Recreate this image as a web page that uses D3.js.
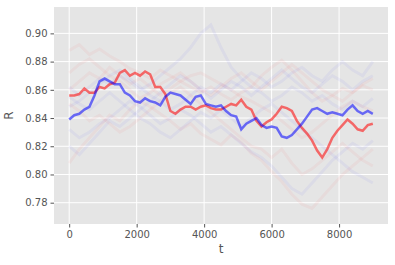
<!DOCTYPE html>
<html>
<head>
<meta charset="utf-8">
<script src="https://cdn.jsdelivr.net/npm/d3@7"></script>
<style>
  body { margin: 0; background: #fff; }
  text { font-family: "DejaVu Sans", sans-serif; }
</style>
</head>
<body>
<div id="chart"></div>
<script>
// highlighted runs, read every 150 steps
var mainStep = 150;
var redMain = [0.856, 0.856, 0.857, 0.861, 0.858, 0.858, 0.862, 0.861, 0.864, 0.865,
  0.872, 0.874, 0.870, 0.872, 0.870, 0.873, 0.871, 0.862, 0.862, 0.857,
  0.845, 0.843, 0.846, 0.848, 0.848, 0.846, 0.848, 0.849, 0.847, 0.846,
  0.846, 0.848, 0.850, 0.849, 0.853, 0.848, 0.846, 0.838, 0.834, 0.837,
  0.839, 0.843, 0.848, 0.847, 0.845, 0.838, 0.833, 0.829, 0.824, 0.817,
  0.812, 0.818, 0.826, 0.831, 0.835, 0.839, 0.836, 0.832, 0.831, 0.835, 0.836];
var blueMain = [0.839, 0.842, 0.843, 0.846, 0.848, 0.856, 0.866, 0.868, 0.866, 0.864,
  0.864, 0.858, 0.856, 0.852, 0.851, 0.854, 0.852, 0.851, 0.849, 0.855,
  0.858, 0.857, 0.856, 0.853, 0.850, 0.855, 0.856, 0.850, 0.849, 0.848,
  0.849, 0.845, 0.842, 0.841, 0.832, 0.836, 0.838, 0.840, 0.835, 0.833,
  0.834, 0.833, 0.827, 0.826, 0.828, 0.832, 0.836, 0.841, 0.846, 0.847,
  0.845, 0.843, 0.844, 0.843, 0.842, 0.846, 0.849, 0.845, 0.843, 0.845, 0.843];

// faint background runs, read every 300 steps
var faintStep = 300;
var redFaint = [
  [0.888, 0.892, 0.885, 0.889, 0.884, 0.880, 0.875, 0.872, 0.868, 0.874, 0.870, 0.866, 0.862, 0.858, 0.862, 0.857,
   0.853, 0.858, 0.862, 0.870, 0.876, 0.881, 0.874, 0.866, 0.858, 0.852, 0.856, 0.861, 0.858, 0.863, 0.860],
  [0.808, 0.818, 0.826, 0.834, 0.842, 0.838, 0.846, 0.852, 0.848, 0.843, 0.838, 0.832, 0.836, 0.829, 0.825, 0.821,
   0.828, 0.823, 0.815, 0.810, 0.802, 0.795, 0.786, 0.779, 0.776, 0.784, 0.792, 0.800, 0.806, 0.812, 0.818],
  [0.860, 0.866, 0.872, 0.868, 0.876, 0.870, 0.864, 0.868, 0.862, 0.856, 0.861, 0.866, 0.870, 0.872, 0.868, 0.864,
   0.860, 0.855, 0.852, 0.848, 0.844, 0.838, 0.832, 0.826, 0.830, 0.836, 0.842, 0.848, 0.852, 0.848, 0.845],
  [0.850, 0.845, 0.838, 0.842, 0.836, 0.830, 0.834, 0.840, 0.846, 0.852, 0.858, 0.862, 0.856, 0.850, 0.844, 0.838,
   0.832, 0.826, 0.820, 0.818, 0.812, 0.818, 0.808, 0.800, 0.804, 0.810, 0.816, 0.822, 0.816, 0.810, 0.806],
  [0.872, 0.878, 0.882, 0.876, 0.870, 0.866, 0.860, 0.854, 0.858, 0.864, 0.868, 0.872, 0.866, 0.860, 0.856, 0.862,
   0.868, 0.872, 0.866, 0.860, 0.866, 0.872, 0.878, 0.872, 0.866, 0.860, 0.856, 0.852, 0.858, 0.864, 0.868]
];
var blueFaint = [
  [0.862, 0.856, 0.862, 0.868, 0.864, 0.870, 0.866, 0.860, 0.864, 0.870, 0.876, 0.882, 0.890, 0.900, 0.906, 0.890,
   0.876, 0.868, 0.862, 0.858, 0.852, 0.856, 0.862, 0.858, 0.852, 0.856, 0.850, 0.846, 0.852, 0.848, 0.854],
  [0.848, 0.852, 0.858, 0.864, 0.870, 0.874, 0.868, 0.862, 0.856, 0.852, 0.846, 0.850, 0.856, 0.862, 0.858, 0.864,
   0.860, 0.866, 0.872, 0.868, 0.862, 0.866, 0.872, 0.876, 0.870, 0.866, 0.874, 0.880, 0.874, 0.870, 0.880],
  [0.832, 0.826, 0.830, 0.836, 0.840, 0.846, 0.852, 0.848, 0.842, 0.836, 0.840, 0.846, 0.842, 0.836, 0.830, 0.834,
   0.828, 0.822, 0.816, 0.812, 0.806, 0.798, 0.790, 0.786, 0.794, 0.802, 0.810, 0.816, 0.822, 0.818, 0.824],
  [0.855, 0.850, 0.846, 0.852, 0.858, 0.852, 0.846, 0.840, 0.836, 0.830, 0.826, 0.832, 0.838, 0.844, 0.840, 0.846,
   0.840, 0.834, 0.840, 0.846, 0.850, 0.844, 0.838, 0.832, 0.826, 0.820, 0.814, 0.808, 0.802, 0.798, 0.794],
  [0.820, 0.814, 0.822, 0.830, 0.838, 0.834, 0.840, 0.846, 0.852, 0.858, 0.864, 0.870, 0.866, 0.860, 0.854, 0.860,
   0.866, 0.862, 0.856, 0.862, 0.868, 0.874, 0.868, 0.862, 0.858, 0.864, 0.870, 0.866, 0.860, 0.866, 0.870]
];

var xTicks = [0, 2000, 4000, 6000, 8000];
var yTicks = [0.78, 0.80, 0.82, 0.84, 0.86, 0.88, 0.90];

(function() {
  var W = 395, H = 265;
  var margin = { top: 7, left: 54, right: 7, bottom: 41 },
    width = W - margin.left - margin.right,
    height = H - margin.top - margin.bottom;

  var svg = d3.select("#chart")
    .append("svg")
    .attr("width", W)
    .attr("height", H)
    .append("g")
    .attr("transform", "translate(" + margin.left + "," + margin.top + ")");

  var x = d3.scaleLinear().domain([-450, 9450]).range([0, width]);
  var y = d3.scaleLinear().domain([0.7649, 0.9187]).range([height, 0]);

  svg.append("rect")
    .attr("width", width)
    .attr("height", height)
    .attr("fill", "#e5e5e5");

  // grid
  svg.selectAll(".gx").data(xTicks).enter().append("line")
    .attr("x1", function(d) { return x(d); })
    .attr("x2", function(d) { return x(d); })
    .attr("y1", 0).attr("y2", height)
    .attr("stroke", "#fff").attr("stroke-width", 1);
  svg.selectAll(".gy").data(yTicks).enter().append("line")
    .attr("y1", function(d) { return y(d); })
    .attr("y2", function(d) { return y(d); })
    .attr("x1", 0).attr("x2", width)
    .attr("stroke", "#fff").attr("stroke-width", 1);

  function makeLine(step) {
    return d3.line()
      .x(function(d, i) { return x(i * step); })
      .y(function(d) { return y(d); });
  }

  var plot = svg.append("g");

  redFaint.forEach(function(s) {
    plot.append("path").datum(s)
      .attr("d", makeLine(faintStep))
      .attr("fill", "none").attr("stroke", "red")
      .attr("stroke-opacity", 0.045).attr("stroke-width", 3);
  });
  blueFaint.forEach(function(s) {
    plot.append("path").datum(s)
      .attr("d", makeLine(faintStep))
      .attr("fill", "none").attr("stroke", "blue")
      .attr("stroke-opacity", 0.045).attr("stroke-width", 3);
  });

  plot.append("path").datum(redMain)
    .attr("d", makeLine(mainStep))
    .attr("fill", "none").attr("stroke", "red")
    .attr("stroke-opacity", 0.55).attr("stroke-width", 2.5);
  plot.append("path").datum(blueMain)
    .attr("d", makeLine(mainStep))
    .attr("fill", "none").attr("stroke", "blue")
    .attr("stroke-opacity", 0.55).attr("stroke-width", 2.5);

  // axes
  var xAxis = svg.append("g")
    .attr("transform", "translate(0," + height + ")")
    .call(d3.axisBottom(x).tickValues(xTicks).tickSize(3.5).tickPadding(3).tickFormat(d3.format("d")));
  var yAxis = svg.append("g")
    .call(d3.axisLeft(y).tickValues(yTicks).tickSize(3.5).tickPadding(3).tickFormat(d3.format(".2f")));

  [xAxis, yAxis].forEach(function(a) {
    a.select(".domain").remove();
    a.selectAll("line").attr("stroke", "#555");
    a.selectAll("text").attr("fill", "#555")
      .style("font-size", "10px")
      .style("font-family", "DejaVu Sans");
  });

  svg.append("text")
    .attr("x", width / 2)
    .attr("y", height + 29)
    .attr("text-anchor", "middle")
    .attr("fill", "#555")
    .style("font-size", "12px")
    .text("t");

  svg.append("text")
    .attr("transform", "translate(" + (-41) + "," + (height / 2) + ") rotate(-90)")
    .attr("text-anchor", "middle")
    .attr("fill", "#555")
    .style("font-size", "12px")
    .text("R");
})();
</script>
</body>
</html>
